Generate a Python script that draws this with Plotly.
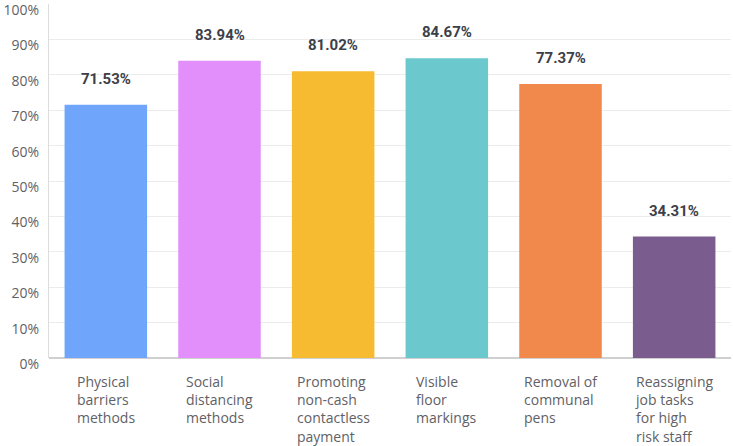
import plotly.graph_objects as go

categories = ["Physical<br>barriers<br>methods", "Social<br>distancing<br>methods",
              "Promoting<br>non-cash<br>contactless<br>payment", "Visible<br>floor<br>markings",
              "Removal of<br>communal<br>pens", "Reassigning<br>job tasks<br>for high<br>risk staff"]
values = [71.53, 83.94, 81.02, 84.67, 77.37, 34.31]
colors = ["#6fa6fb", "#e28ffc", "#f6bb30", "#6bc8cc", "#f0894b", "#7b5c8f"]
yticks = [0, 10, 20, 30, 40, 50, 60, 70, 80, 90, 100]
ytick_labels = [f"{t}%" for t in yticks]

fig = go.Figure()
fig.add_trace(go.Bar(x=list(range(len(values))), y=values, marker=dict(color=colors, line=dict(width=0)),
                     hoverinfo="skip"))

for i, v in enumerate(values):
    fig.add_annotation(x=i, y=v, text=f"{v:.2f}%", showarrow=False, yanchor="bottom", yshift=15,
                       font=dict(family="Roboto", size=15, color="#3c4049", weight="bold"))
    fig.add_annotation(x=i, y=0, text=categories[i], showarrow=False, yanchor="top", yshift=-12,
                       align="left", xanchor="center",
                       font=dict(family="Open Sans", size=14, color="#5f6166"))

fig.update_layout(
    width=733, height=446,
    margin=dict(l=49, r=2, t=4, b=88, autoexpand=False),
    plot_bgcolor="white", paper_bgcolor="white",
    bargap=0.274, showlegend=False, hovermode=False,
    xaxis=dict(range=[-0.5, len(values) - 0.5], showticklabels=False, showgrid=False,
               zeroline=False, showline=False, fixedrange=True, automargin=False),
    yaxis=dict(range=[0, 100], tickvals=yticks, ticktext=ytick_labels, showgrid=True, automargin=False,
               gridcolor="#ececec", gridwidth=1, zeroline=True, zerolinecolor="#d0d0d0", zerolinewidth=2,
               showline=True, linecolor="#dcdcdc", linewidth=1, ticks="", ticklabelstandoff=6,
               ticklabelshift=6, ticklabeloverflow="allow", fixedrange=True,
               tickfont=dict(family="Open Sans", size=14, color="#5f6166")),
)

fig.write_html("out.html", config={"displayModeBar": False, "staticPlot": True},
               post_script="document.body.style.margin='0';document.body.style.overflow='hidden';")
